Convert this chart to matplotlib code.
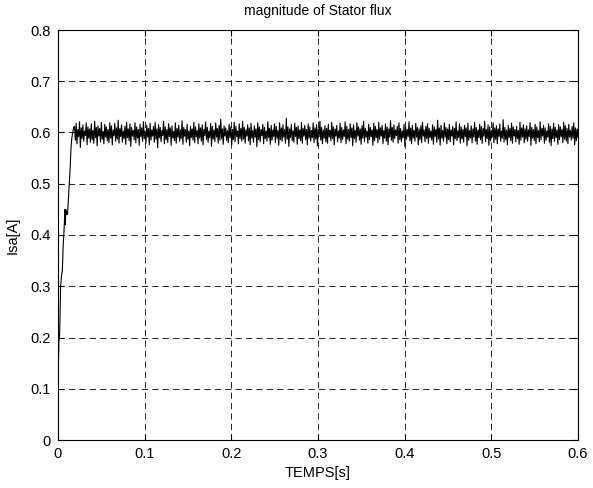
import numpy as np
import matplotlib.pyplot as plt

plt.rcParams['font.family'] = ['Liberation Sans', 'DejaVu Sans']
plt.rcParams['lines.scale_dashes'] = False

# start-up transient
t_start = [0.0, 0.001, 0.002, 0.003, 0.004, 0.005, 0.006, 0.007, 0.008, 0.0085,
           0.009, 0.010, 0.011, 0.012, 0.013, 0.014, 0.015, 0.016, 0.017, 0.018]
y_start = [0.11, 0.19, 0.21, 0.30, 0.32, 0.33, 0.38, 0.41, 0.45, 0.42,
           0.45, 0.44, 0.44, 0.47, 0.50, 0.53, 0.57, 0.59, 0.60, 0.61]

# steady-state ripple around 0.6 (estimated values)
y_ripple = [
    0.612, 0.585, 0.618, 0.578, 0.606, 0.592, 0.621, 0.571, 0.609, 0.588, 0.615, 0.583, 0.603, 0.594, 0.619, 0.576, 0.611, 0.589, 0.607, 0.581,
    0.617, 0.586, 0.604, 0.579, 0.622, 0.590, 0.610, 0.574, 0.613, 0.593, 0.608, 0.582, 0.620, 0.587, 0.602, 0.578, 0.616, 0.591, 0.611, 0.584,
    0.606, 0.580, 0.619, 0.589, 0.613, 0.576, 0.605, 0.594, 0.618, 0.583, 0.609, 0.587, 0.624, 0.579, 0.608, 0.592, 0.615, 0.581, 0.603, 0.588,
    0.612, 0.577, 0.620, 0.590, 0.607, 0.584, 0.617, 0.573, 0.610, 0.593, 0.604, 0.586, 0.619, 0.580, 0.611, 0.589, 0.606, 0.575, 0.616, 0.592,
    0.609, 0.583, 0.621, 0.588, 0.603, 0.579, 0.614, 0.591, 0.608, 0.576, 0.618, 0.585, 0.605, 0.593, 0.612, 0.581, 0.620, 0.587, 0.607, 0.570,
    0.615, 0.590, 0.610, 0.582, 0.604, 0.594, 0.622, 0.578, 0.611, 0.586, 0.606, 0.580, 0.617, 0.592, 0.609, 0.575, 0.613, 0.589, 0.602, 0.584,
    0.619, 0.579, 0.608, 0.591, 0.614, 0.583, 0.605, 0.588, 0.623, 0.577, 0.610, 0.593, 0.606, 0.581, 0.616, 0.587, 0.603, 0.574, 0.612, 0.590,
    0.607, 0.585, 0.620, 0.580, 0.611, 0.592, 0.604, 0.578, 0.617, 0.589, 0.609, 0.583, 0.615, 0.576, 0.606, 0.594, 0.621, 0.586, 0.610, 0.581,
    0.603, 0.590, 0.618, 0.573, 0.612, 0.587, 0.605, 0.582, 0.619, 0.591, 0.608, 0.579, 0.614, 0.585, 0.626, 0.588, 0.607, 0.577, 0.613, 0.593,
    0.609, 0.584, 0.604, 0.580, 0.616, 0.590, 0.611, 0.575, 0.606, 0.586, 0.620, 0.582, 0.612, 0.592, 0.603, 0.578, 0.617, 0.588, 0.608, 0.583,
    0.622, 0.587, 0.610, 0.579, 0.605, 0.593, 0.615, 0.584, 0.609, 0.576, 0.618, 0.589, 0.604, 0.581, 0.613, 0.591, 0.607, 0.572, 0.619, 0.586,
    0.611, 0.582, 0.606, 0.594, 0.616, 0.578, 0.610, 0.588, 0.603, 0.583, 0.621, 0.590, 0.608, 0.577, 0.614, 0.585, 0.605, 0.592, 0.617, 0.580,
    0.612, 0.589, 0.604, 0.575, 0.619, 0.586, 0.609, 0.583, 0.615, 0.591, 0.606, 0.579, 0.628, 0.587, 0.611, 0.573, 0.607, 0.590, 0.616, 0.584,
    0.603, 0.581, 0.618, 0.592, 0.610, 0.577, 0.613, 0.588, 0.605, 0.584, 0.620, 0.579, 0.608, 0.593, 0.614, 0.586, 0.606, 0.576, 0.617, 0.589,
    0.611, 0.583, 0.604, 0.590, 0.619, 0.580, 0.609, 0.587, 0.615, 0.574, 0.607, 0.592, 0.622, 0.585, 0.610, 0.578, 0.605, 0.589, 0.613, 0.582,
    0.608, 0.579, 0.616, 0.591, 0.604, 0.584, 0.620, 0.588, 0.611, 0.576, 0.607, 0.593, 0.614, 0.582, 0.603, 0.589, 0.618, 0.580, 0.610, 0.586,
    0.605, 0.592, 0.621, 0.578, 0.612, 0.587, 0.606, 0.583, 0.617, 0.590, 0.609, 0.574, 0.615, 0.588, 0.604, 0.581, 0.619, 0.593, 0.611, 0.585,
    0.607, 0.577, 0.613, 0.589, 0.622, 0.582, 0.608, 0.591, 0.603, 0.579, 0.616, 0.586, 0.610, 0.592, 0.605, 0.575, 0.618, 0.584, 0.612, 0.590,
    0.606, 0.580, 0.620, 0.587, 0.609, 0.593, 0.614, 0.578, 0.604, 0.589, 0.617, 0.583, 0.611, 0.576, 0.607, 0.591, 0.623, 0.585, 0.610, 0.581,
    0.615, 0.588, 0.605, 0.594, 0.612, 0.579, 0.619, 0.586, 0.608, 0.582, 0.603, 0.590, 0.616, 0.573, 0.611, 0.587, 0.606, 0.592, 0.621, 0.584,
    0.609, 0.578, 0.614, 0.589, 0.604, 0.583, 0.618, 0.591, 0.610, 0.576, 0.607, 0.586, 0.613, 0.580, 0.620, 0.593, 0.605, 0.582, 0.612, 0.588,
    0.617, 0.579, 0.608, 0.590, 0.603, 0.585, 0.615, 0.577, 0.611, 0.592, 0.606, 0.581, 0.624, 0.587, 0.609, 0.575, 0.614, 0.589, 0.604, 0.583,
    0.619, 0.591, 0.610, 0.578, 0.607, 0.586, 0.616, 0.582, 0.605, 0.593, 0.612, 0.576, 0.608, 0.588, 0.621, 0.584, 0.603, 0.590, 0.617, 0.579,
    0.611, 0.587, 0.606, 0.581, 0.614, 0.592, 0.609, 0.574, 0.618, 0.585, 0.604, 0.589, 0.613, 0.580, 0.607, 0.591, 0.620, 0.583, 0.610, 0.577,
    0.605, 0.590, 0.616, 0.586, 0.612, 0.579, 0.608, 0.593, 0.622, 0.582, 0.606, 0.588, 0.615, 0.575, 0.611, 0.584, 0.604, 0.591, 0.619, 0.580,
    0.609, 0.587, 0.613, 0.578, 0.607, 0.592, 0.617, 0.583, 0.603, 0.589, 0.625, 0.581, 0.610, 0.586, 0.605, 0.576, 0.614, 0.590, 0.608, 0.584,
    0.618, 0.579, 0.611, 0.593, 0.606, 0.582, 0.612, 0.588, 0.604, 0.577, 0.620, 0.585, 0.609, 0.591, 0.615, 0.580, 0.607, 0.587, 0.613, 0.583,
    0.605, 0.592, 0.619, 0.575, 0.610, 0.589, 0.606, 0.584, 0.616, 0.578, 0.611, 0.590, 0.604, 0.582, 0.621, 0.586, 0.608, 0.593, 0.614, 0.579,
    0.609, 0.585, 0.603, 0.591, 0.617, 0.581, 0.612, 0.574, 0.607, 0.588, 0.618, 0.583, 0.610, 0.590, 0.605, 0.577, 0.615, 0.586, 0.611, 0.592,
    0.606, 0.580, 0.620, 0.587, 0.613, 0.583, 0.608, 0.578, 0.616, 0.591, 0.604, 0.585, 0.612, 0.589, 0.619, 0.576, 0.609, 0.584, 0.607, 0.590,
]
t_ripple = np.linspace(0.019, 0.6, len(y_ripple))

t = np.concatenate([t_start, t_ripple])
y = np.concatenate([y_start, y_ripple])

fig = plt.figure(figsize=(5.93, 4.88), dpi=100)
ax = fig.add_axes([58 / 593, 48 / 488, 520 / 593, 410 / 488])

ax.plot(t, y, color='black', linewidth=0.8)

ax.set_xlim(0, 0.6)
ax.set_ylim(0, 0.8)
ax.set_xticks(np.arange(0, 0.61, 0.1))
ax.set_yticks(np.arange(0, 0.81, 0.1))
ax.set_xticklabels(['0', '0.1', '0.2', '0.3', '0.4', '0.5', '0.6'])
ax.set_yticklabels(['0', '0.1', '0.2', '0.3', '0.4', '0.5', '0.6', '0.7', '0.8'])
ax.tick_params(direction='in', top=True, right=True, labelsize=10.5, length=4, pad=5)

ax.grid(True, color='black', linestyle=(0, (4.5, 3)), linewidth=0.6)
for s in ax.spines.values():
    s.set_linewidth(0.8)

ax.set_title('magnitude of Stator flux', fontsize=10, pad=11)
ax.set_xlabel('TEMPS[s]', fontsize=10.5, labelpad=4)
ax.set_ylabel('Isa[A]', fontsize=10.5, labelpad=8)

fig.savefig('out.png', dpi=100)
